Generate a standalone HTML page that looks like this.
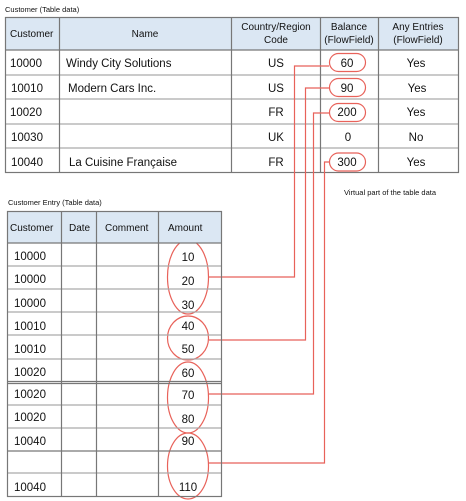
<!DOCTYPE html>
<html><head><meta charset="utf-8"><style>
html,body{margin:0;padding:0;background:#fff;width:466px;height:501px;overflow:hidden}
text{font-family:"Liberation Sans",sans-serif;fill:#111}
</style></head><body>
<svg width="466" height="501" xmlns="http://www.w3.org/2000/svg">
<text x="5" y="12" font-size="7.5">Customer (Table data)</text>
<rect x="5" y="17" width="454" height="33" fill="#dbe7f3"/>
<g stroke="#aaa" stroke-width="1.2">
<line x1="5" y1="75" x2="459" y2="75"/><line x1="5" y1="99" x2="459" y2="99"/>
<line x1="5" y1="124" x2="459" y2="124"/><line x1="5" y1="148" x2="459" y2="148"/>
</g>
<g stroke="#777" stroke-width="1.2" fill="none">
<rect x="5.5" y="17.5" width="453" height="155"/>
<line x1="5" y1="50" x2="459" y2="50"/>
<line x1="59.5" y1="17" x2="59.5" y2="173"/><line x1="231.5" y1="17" x2="231.5" y2="173"/>
<line x1="320.5" y1="17" x2="320.5" y2="173"/><line x1="378.5" y1="17" x2="378.5" y2="173"/>
</g>
<g font-size="10">
<text x="10" y="37">Customer</text>
<text x="145" y="37" text-anchor="middle">Name</text>
<text x="276" y="30" text-anchor="middle">Country/Region</text>
<text x="276" y="43" text-anchor="middle">Code</text>
<text x="349" y="30" text-anchor="middle">Balance</text>
<text x="349" y="43" text-anchor="middle">(FlowField)</text>
<text x="418" y="30" text-anchor="middle">Any Entries</text>
<text x="418" y="43" text-anchor="middle">(FlowField)</text>
</g>
<g font-size="11.5">
<text x="10" y="67">10000</text><text x="66" y="67">Windy City Solutions</text><text x="276" y="67" text-anchor="middle">US</text><text x="347" y="67" text-anchor="middle">60</text><text x="416" y="67" text-anchor="middle">Yes</text>
<text x="11" y="92">10010</text><text x="68" y="92">Modern Cars Inc.</text><text x="276" y="92" text-anchor="middle">US</text><text x="347" y="92" text-anchor="middle">90</text><text x="417" y="92" text-anchor="middle">Yes</text>
<text x="10" y="116">10020</text><text x="276" y="116" text-anchor="middle">FR</text><text x="347" y="116" text-anchor="middle">200</text><text x="416" y="116" text-anchor="middle">Yes</text>
<text x="11" y="141">10030</text><text x="276" y="141" text-anchor="middle">UK</text><text x="348" y="141" text-anchor="middle">0</text><text x="416" y="141" text-anchor="middle">No</text>
<text x="11" y="166">10040</text><text x="69" y="166">La Cuisine Française</text><text x="276" y="166" text-anchor="middle">FR</text><text x="347" y="166" text-anchor="middle">300</text><text x="416" y="166" text-anchor="middle">Yes</text>
</g>
<g stroke="#e8625a" stroke-width="1.2" fill="none">
<rect x="329.5" y="53.5" width="36" height="18" rx="9"/>
<rect x="329.5" y="78.5" width="36" height="18" rx="9"/>
<rect x="329.5" y="103.5" width="36" height="18" rx="9"/>
<rect x="329.5" y="153" width="36" height="18" rx="9"/>
<ellipse cx="188" cy="277" rx="20.5" ry="37"/>
<ellipse cx="188" cy="338" rx="20.5" ry="22"/>
<ellipse cx="188" cy="397.5" rx="20.5" ry="35.5"/>
<ellipse cx="188" cy="466" rx="20.5" ry="33"/>
<polyline points="209,277 294.5,277 294.5,66 329,66"/>
<polyline points="209,340 305.5,340 305.5,88 329,88"/>
<polyline points="209,394 313.5,394 313.5,113 329,113"/>
<polyline points="209,463 324.5,463 324.5,162 329,162"/>
</g>
<text x="344" y="195" font-size="7.5">Virtual part of the table data</text>
<text x="8" y="205" font-size="7.5">Customer Entry (Table data)</text>
<rect x="7" y="211" width="215" height="32" fill="#dbe7f3"/>
<g stroke="#aaa" stroke-width="1.2">
<line x1="7" y1="266" x2="222" y2="266"/><line x1="7" y1="289" x2="222" y2="289"/>
<line x1="7" y1="312" x2="222" y2="312"/><line x1="7" y1="335" x2="222" y2="335"/>
<line x1="7" y1="359" x2="222" y2="359"/>
<line x1="7" y1="405" x2="222" y2="405"/><line x1="7" y1="428" x2="222" y2="428"/>
<line x1="7" y1="473" x2="222" y2="473"/>
</g>
<g stroke="#777" stroke-width="1.2" fill="none">
<rect x="7.5" y="211.5" width="214" height="285"/>
<line x1="7" y1="243" x2="222" y2="243"/>
<line x1="7" y1="381.5" x2="222" y2="381.5"/><line x1="7" y1="383.5" x2="222" y2="383.5"/>
<line x1="7" y1="451" x2="222" y2="451"/>
<line x1="61.5" y1="211" x2="61.5" y2="497"/><line x1="96.5" y1="211" x2="96.5" y2="497"/>
<line x1="158.5" y1="211" x2="158.5" y2="497"/>
</g>
<g font-size="10">
<text x="10" y="231">Customer</text><text x="69" y="231">Date</text><text x="105" y="231">Comment</text><text x="168" y="231">Amount</text>
</g>
<g font-size="11.5">
<text x="14" y="260">10000</text><text x="188" y="261" text-anchor="middle">10</text>
<text x="14" y="283">10000</text><text x="188" y="285" text-anchor="middle">20</text>
<text x="14" y="307">10000</text><text x="188" y="309" text-anchor="middle">30</text>
<text x="14" y="330">10010</text><text x="188" y="330" text-anchor="middle">40</text>
<text x="14" y="353">10010</text><text x="188" y="353" text-anchor="middle">50</text>
<text x="14" y="376">10020</text><text x="188" y="377" text-anchor="middle">60</text>
<text x="14" y="398">10020</text><text x="188" y="399" text-anchor="middle">70</text>
<text x="14" y="421">10020</text><text x="188" y="423" text-anchor="middle">80</text>
<text x="14" y="445">10040</text><text x="188" y="445" text-anchor="middle">90</text>
<text x="14" y="491">10040</text><text x="188" y="491" text-anchor="middle">110</text>
</g>
</svg>
</body></html>
